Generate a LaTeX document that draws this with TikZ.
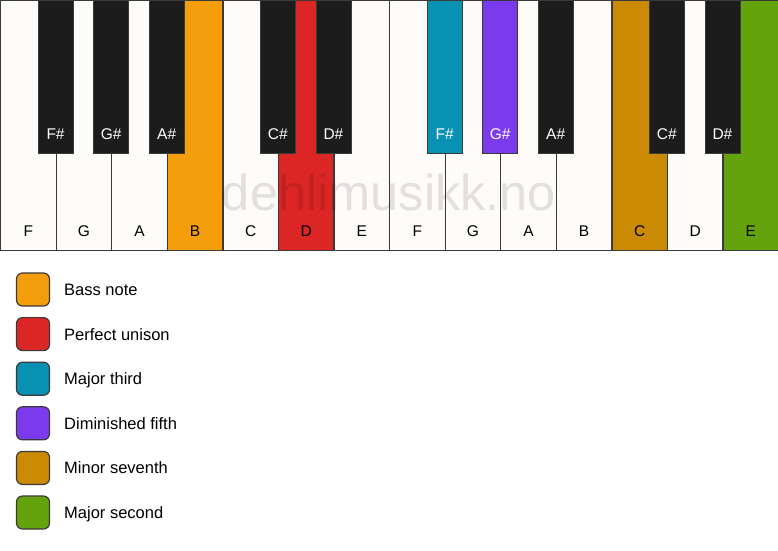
\documentclass[tikz,border=0pt]{standalone}
\usepackage{fontspec}
\setmainfont{Liberation Sans}
\usetikzlibrary{calc}
\definecolor{keywhite}{HTML}{FDFCF9}
\definecolor{keyblack}{HTML}{1C1C1C}
\definecolor{keyline}{HTML}{3A3A3A}
\definecolor{cbass}{HTML}{F59E0B}
\definecolor{cunison}{HTML}{DC2626}
\definecolor{cthird}{HTML}{0891B2}
\definecolor{cfifth}{HTML}{7C3AED}
\definecolor{cseventh}{HTML}{CA8A04}
\definecolor{csecond}{HTML}{65A30D}
\tikzset{
  whitekey/.style={draw=keyline, line width=1.3pt, fill=keywhite, minimum width=55.571pt, minimum height=250pt, inner sep=0pt, anchor=north west},
  blackkey/.style={draw=keyline, line width=0.8pt, fill=keyblack, minimum width=35pt, minimum height=153pt, inner sep=0pt, anchor=north},
  wlabel/.style={font=\fontsize{15.5}{15.5}\selectfont, text=black, anchor=base, inner sep=0pt},
  blabel/.style={font=\fontsize{15.5}{15.5}\selectfont, text=white, anchor=base, inner sep=0pt},
  swatch/.style={draw=keyline, line width=1.2pt, rounded corners=6pt, minimum size=33pt, inner sep=0pt},
  legtext/.style={font=\fontsize{16.5}{16.5}\selectfont, anchor=base west, inner sep=0pt, text=black},
}
\begin{document}
\begin{tikzpicture}[x=1pt,y=-1pt]
\useasboundingbox (0,0) rectangle (778,550);
\fill[white] (0,0) rectangle (778,550);
% white keys
\foreach \i/\n/\c in {0/F/keywhite,1/G/keywhite,2/A/keywhite,3/B/cbass,4/C/keywhite,5/D/cunison,6/E/keywhite,7/F/keywhite,8/G/keywhite,9/A/keywhite,10/B/keywhite,11/C/cseventh,12/D/keywhite,13/E/csecond}{
  \node[whitekey, fill=\c] (w\i) at ({\i*55.571},0) {};
  \node[wlabel] (wl\i) at ($(w\i.south)+(0,-15)$) {\n};
}
% watermark
\node[font=\fontsize{50.5}{50.5}\selectfont, text=black, opacity=0.11] (wm) at (389,192) {dehlimusikk.no};
% black keys
\foreach \i/\n/\c in {1/F\#/keyblack,2/G\#/keyblack,3/A\#/keyblack,5/C\#/keyblack,6/D\#/keyblack,8/F\#/cthird,9/G\#/cfifth,10/A\#/keyblack,12/C\#/keyblack,13/D\#/keyblack}{
  \node[blackkey, fill=\c] (b\i) at ({\i*55.571},0) {};
  \node[blabel] (bl\i) at ($(b\i.south)+(0,-14.8)$) {\n};
}
% legend
\foreach \k/\c/\t [count=\j from 0] in {1/cbass/Bass note,2/cunison/Perfect unison,3/cthird/Major third,4/cfifth/Diminished fifth,5/cseventh/Minor seventh,6/csecond/Major second}{
  \node[swatch, fill=\c] (s\k) at (33,{289.5+\j*44.6}) {};
  \node[legtext] (t\k) at (64,{295.5+\j*44.6}) {\t};
}
\end{tikzpicture}
\end{document}
